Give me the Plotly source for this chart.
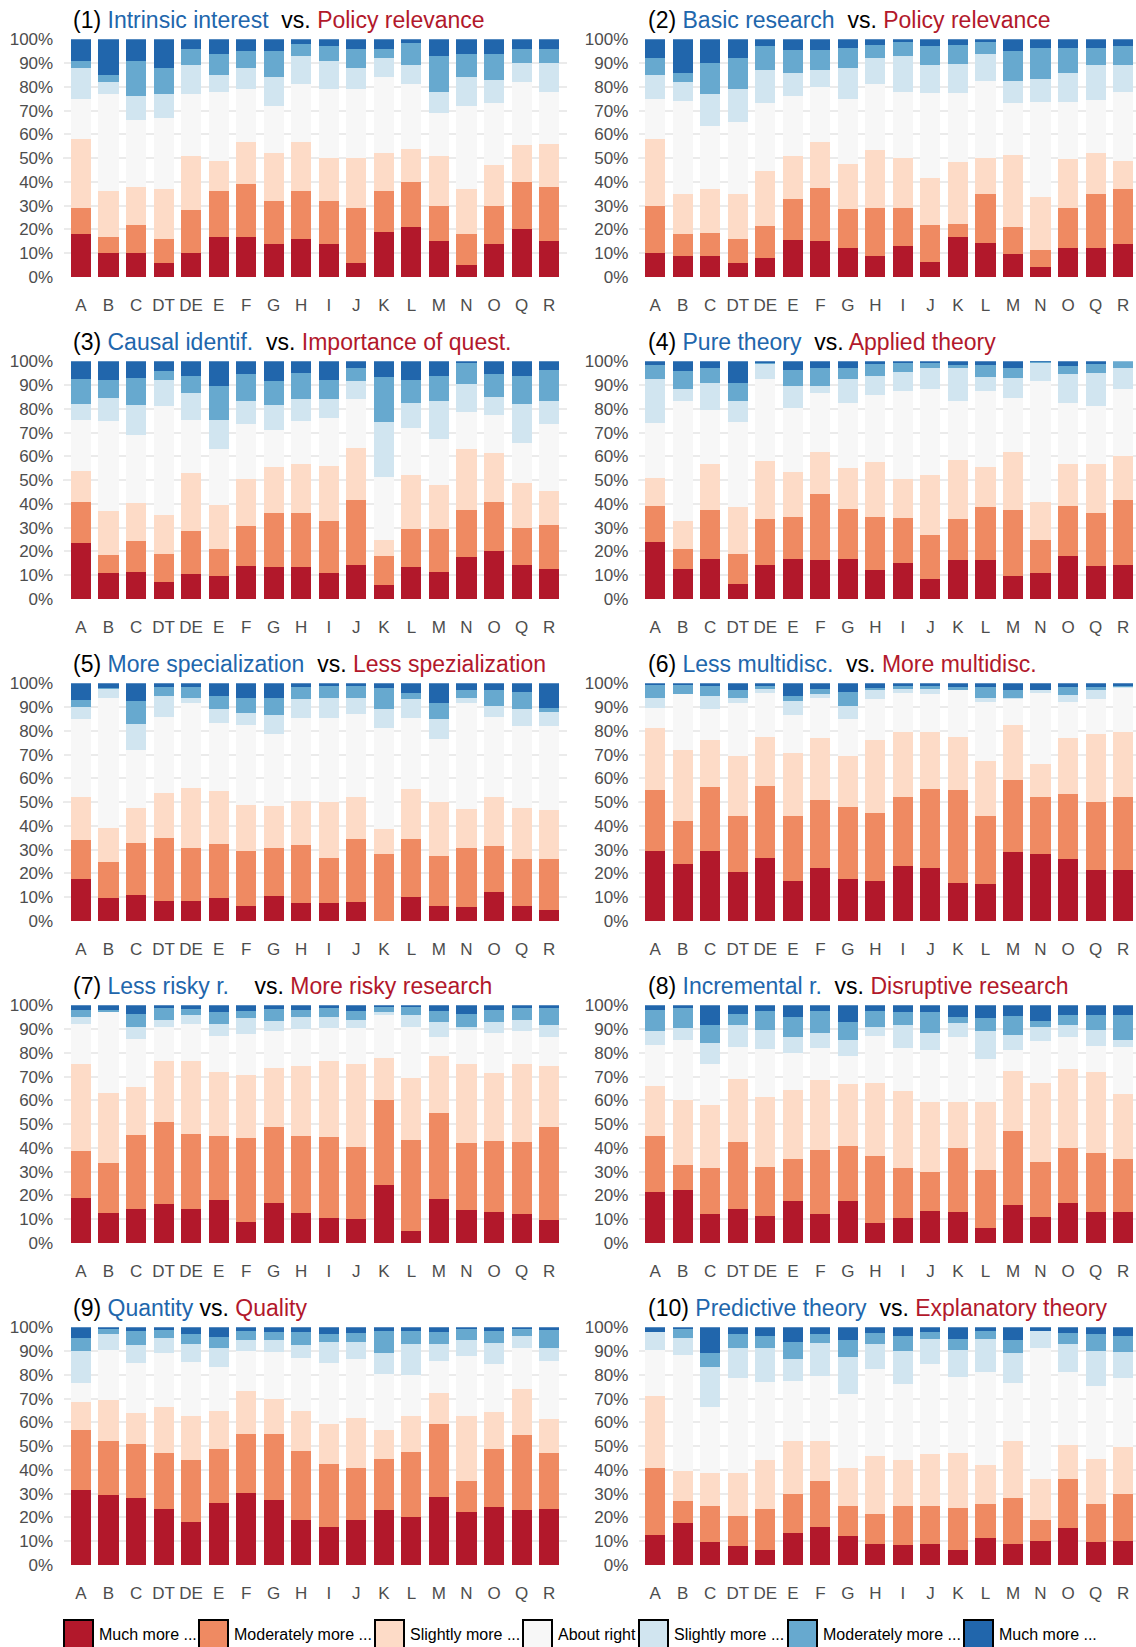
import plotly.graph_objects as go

fields = ["A", "B", "C", "DT", "DE", "E", "F", "G", "H", "I",
          "J", "K", "L", "M", "N", "O", "Q", "R"]

levels = ["Much more ...", "Moderately more ...", "Slightly more ...", "About right",
          "Slightly more ...", "Moderately more ...", "Much more ..."]
level_colors = ["#b2182b", "#ef8a62", "#fddbc7", "#f7f7f7", "#d1e5f0", "#67a9cf", "#2166ac"]

pct_ticks = list(range(0, 101, 10))
pct_labels = [f"{v}%" for v in pct_ticks]

# shares in % -- one row per field (order of `fields`), one column per level (order of `levels`)
intrinsic_vs_policy = [
    [18, 11, 29, 17, 13, 3, 9], [10, 7, 19, 41, 5, 3, 15], [10, 12, 16, 28, 10, 15, 9],
    [6, 10, 21, 30, 10, 11, 12], [10, 18, 23, 26, 12, 7, 4], [17, 19, 13, 29, 7, 9, 6],
    [17, 22, 18, 22, 9, 7, 5], [14, 18, 20, 20, 12, 11, 5], [16, 20, 21, 24, 12, 5, 2],
    [14, 18, 18, 29, 12, 6, 3], [6, 23, 21, 29, 9, 8, 4], [19, 17, 16, 32, 8, 4, 4],
    [21, 19, 14, 27, 8, 9.5, 1.5], [15, 15, 21, 18, 9, 15, 7], [5, 13, 19, 35, 12, 10, 6],
    [14, 16, 17, 26, 10, 11, 6], [20, 20, 15.5, 26.5, 8, 6, 4], [15, 23, 18, 22, 12, 6, 4],
]
basic_vs_policy = [
    [10, 20, 28, 17, 10, 7, 8], [9, 9, 17, 39, 8, 4, 14], [9, 9.5, 18.5, 26.5, 13.5, 13, 10],
    [6, 10, 19, 30, 14, 13, 8], [8, 13.5, 23, 28.5, 14, 10, 3], [15.5, 17.5, 18, 25, 10, 9.5, 4.5],
    [15, 22.5, 19.5, 23, 7, 8.5, 4.5], [12, 16.5, 19, 27.5, 13, 8.5, 3.5], [9, 20, 24.5, 27.5, 11, 5.5, 2.5],
    [13, 16, 21, 28, 15, 6, 1], [6.5, 15.5, 19.5, 36, 11.5, 8, 3], [17, 5.5, 26, 29, 12, 8, 2.5],
    [14.5, 20.5, 15, 32.5, 11.5, 5, 1], [9.5, 11.5, 30.5, 21.5, 9.5, 12.5, 5], [4, 7.5, 22, 40, 10, 13, 3.5],
    [12, 17, 20.5, 24, 12.5, 10.5, 3.5], [12, 23, 17, 22.5, 14.5, 7.5, 3.5], [14, 23, 12, 29, 11, 8, 3],
]
causal_vs_importance = [
    [23.5, 17.5, 13, 21.5, 6.5, 10.5, 7.5], [11, 7.5, 18.5, 38, 9.5, 7.5, 8], [11.5, 13, 16, 28.5, 12.5, 11.5, 7],
    [7, 12, 16.5, 45.5, 11, 4, 4], [10.5, 18, 24.5, 22.5, 11, 7.5, 6], [9.5, 11.5, 18.5, 23.5, 12.5, 14, 10.5],
    [14, 16.5, 20, 23, 10, 11, 5.5], [13.5, 22.5, 19.5, 15.5, 10.5, 10, 8.5], [13.5, 22.5, 21, 18, 9, 11, 5],
    [11, 22, 23, 20, 8, 8, 8], [14.5, 27, 22, 20.5, 7.5, 5.5, 3], [6, 12, 7, 26.5, 23, 19, 6.5],
    [13.5, 16, 22.5, 20, 10.5, 9.5, 8], [11.5, 18, 18.5, 19.5, 16, 10.5, 6], [17.5, 20, 25.5, 15.5, 12, 9, 0.5],
    [20, 21, 20.5, 16, 7.5, 9.5, 5.5], [14.5, 15.5, 19, 16.5, 16.5, 12, 6], [12.5, 18.5, 14.5, 28, 10, 13, 3.5],
]
pure_vs_applied = [
    [24, 15, 12, 23, 18.5, 6, 1.5], [12.5, 8.5, 12, 50.5, 5, 7.5, 4], [17, 20.5, 19.5, 22.5, 11.5, 6, 3],
    [6.5, 12.5, 19.5, 36, 9, 7.5, 9], [14.5, 19, 24.5, 34.5, 6.5, 0.5, 0.5], [17, 17.5, 19, 27, 9, 7, 3.5],
    [16.5, 27.5, 18, 24.5, 3, 7.5, 3], [17, 21, 17, 27.5, 10, 4.5, 3], [12, 22.5, 23, 28.5, 8, 5, 1],
    [15, 19, 16.5, 37, 8, 4, 0.5], [8.5, 18.5, 25, 36.5, 8.5, 2.5, 0.5], [16.5, 17, 25, 25, 13.5, 1.5, 1.5],
    [16.5, 22, 17, 32, 6, 5, 1.5], [9.5, 28, 24.5, 22.5, 8.5, 4, 3], [11, 14, 16, 50.5, 8, 0.2, 0.3],
    [18, 21, 18, 25.5, 12, 3.5, 2], [14, 22, 21, 24, 14, 4, 1], [14.5, 27, 18.5, 28.5, 8.5, 3, 0],
]
specialization = [
    [17.5, 16.5, 18, 33, 5, 3, 7], [9.5, 15.5, 14, 55, 3.5, 0.5, 2], [11, 22, 14.5, 24.5, 11, 9.5, 7.5],
    [8.5, 26.5, 19, 32, 8.5, 4, 1.5], [8.5, 22, 25.5, 35.5, 2.5, 4.5, 1.5], [9.5, 23, 22, 29, 5.5, 5.5, 5.5],
    [6.5, 23, 19.5, 33.5, 5, 6.5, 6], [10.5, 20, 18, 30, 8, 7.5, 6], [7.5, 24.5, 18.5, 35, 8, 5, 1.5],
    [7.5, 19, 23.5, 35.5, 8.5, 5, 1], [8, 26.5, 17.5, 35, 7, 5, 1], [0, 28, 10.5, 42.5, 8, 9, 2],
    [10, 24.5, 21, 30, 8, 2.5, 4], [6.5, 21, 22.5, 26.5, 8.5, 6.5, 8.5], [6, 24.5, 16.5, 44.5, 2.5, 3, 3],
    [12, 19.5, 20.5, 34, 4.5, 6.5, 3], [6.5, 19.5, 21.5, 34.5, 7, 7.5, 3.5], [4.5, 21.5, 20.5, 35.5, 6, 1.5, 10.5],
]
multidisc = [
    [29.5, 25.5, 26, 8.5, 4.5, 5.5, 0.5], [24, 18, 30, 23.5, 0, 4, 0.5], [29.5, 27, 19.5, 13, 5.5, 4.5, 1],
    [20.5, 23.5, 25.5, 22, 2.5, 3, 3], [26.5, 30.5, 20.5, 18.5, 1.5, 1.5, 1], [17, 27, 26.5, 16, 6, 2, 5.5],
    [22.5, 28.5, 26, 17, 1.5, 2, 2.5], [17.5, 30.5, 21.5, 15.5, 5.5, 6, 3.5], [17, 28.5, 30.5, 17.5, 3.5, 1, 2],
    [23, 29, 27.5, 16.5, 1.5, 1.5, 1], [22.5, 33, 24, 16, 2, 1.5, 1], [16, 39, 22.5, 19.5, 0, 1.5, 1.5],
    [15.5, 28.5, 23.5, 24.5, 2, 4.5, 1.5], [29, 30.5, 23, 11, 0.5, 3, 3], [28, 24, 14, 30, 1, 0, 3],
    [26, 27.5, 23.5, 15, 3, 3.5, 1.5], [21.5, 28.5, 28.5, 15, 3.5, 1.5, 1.5], [21.5, 30.5, 27.5, 18.5, 0.5, 0.5, 1],
]
risk = [
    [19, 19.5, 37, 16.5, 3, 3, 2], [12.5, 21, 29.5, 34, 0, 1, 2], [14.5, 31, 20, 20.5, 5, 5.5, 3.5],
    [16.5, 34.5, 25.5, 14.5, 3, 5, 1], [14.5, 31.5, 30.5, 15.5, 4, 2.5, 1.5], [18, 27, 27, 15, 5, 5, 3],
    [9, 35, 26.5, 17.5, 6.5, 3, 2.5], [17, 32, 24.5, 15.5, 4.5, 5, 1.5], [12.5, 32.5, 29.5, 15.5, 5, 3, 2],
    [10.5, 34, 32, 14, 4.5, 4, 1], [10, 30.5, 35, 15, 3.5, 3.5, 2.5], [24.5, 35.5, 18, 18, 1, 2.5, 0.5],
    [5, 38.5, 26, 21.5, 5, 3.5, 0.5], [18.5, 36, 24, 8, 6.5, 4.5, 2.5], [14, 28, 33.5, 14, 1.5, 5.5, 3.5],
    [13, 30, 28.5, 17, 4.5, 5, 2], [12, 30.5, 33, 13.5, 5, 5, 1], [9.5, 39.5, 25.5, 12, 5, 7.5, 1],
]
incremental_vs_disruptive = [
    [21.5, 23.5, 21, 17.5, 5.5, 9, 2], [22.5, 10.5, 27, 25.5, 5, 8.5, 1], [12, 19.5, 26.5, 17.5, 8.5, 7.5, 8.5],
    [14.5, 28, 26.5, 13.5, 9, 5, 3.5], [11.5, 20.5, 29.5, 20, 8, 8, 2.5], [17.5, 18, 29, 15.5, 6.5, 8.5, 5],
    [12, 27, 29.5, 13.5, 6.5, 9, 2.5], [17.5, 23.5, 26, 11.5, 7, 7.5, 7], [8.5, 28, 31, 19.5, 4, 6.5, 2.5],
    [10.5, 21, 32.5, 18, 9.5, 5.5, 3], [13.5, 16.5, 29.5, 21.5, 7.5, 8.5, 3], [13, 27, 19.5, 27, 6, 2.5, 5],
    [6.5, 24, 29, 18, 11.5, 5.5, 5.5], [16, 31, 25.5, 8.5, 6.5, 8, 4.5], [11, 23, 33.5, 17.5, 6, 2.5, 6.5],
    [17, 23, 33, 13.5, 5, 4.5, 4], [13, 25, 34, 11, 6.5, 6.5, 4], [13, 22.5, 27, 20, 3, 10.5, 4],
]
quantity_vs_quality = [
    [31.5, 25.5, 11.5, 8, 13.5, 5.5, 4.5], [29.5, 22.5, 17.5, 21, 6.5, 2.5, 0.5], [28, 23, 13, 21, 7.5, 6, 1.5],
    [23.5, 23.5, 19.5, 22.5, 6.5, 3.5, 1], [18, 26, 18.5, 23, 7.5, 4, 3], [26, 23, 16, 18.5, 8, 4.5, 4],
    [30.5, 24.5, 18, 17, 4.5, 4, 1.5], [27.5, 27.5, 15, 19.5, 5, 3.5, 2], [19, 29, 17, 22, 5.5, 5.5, 2],
    [16, 26.5, 17, 25.5, 9, 3, 3], [19, 22, 21, 24.5, 7.5, 3.5, 2.5], [23, 21.5, 12.5, 23.5, 8.5, 9.5, 1.5],
    [20, 27.5, 15, 17.5, 13, 5.5, 1.5], [28.5, 31, 13, 13.5, 7, 5, 2], [22.5, 13, 27, 25.5, 6.5, 5, 0.5],
    [24.5, 24.5, 15.5, 20, 9, 5, 1.5], [23, 31.5, 19.5, 17.5, 5, 3, 0.5], [23.5, 23.5, 14.5, 24.5, 5.5, 7.5, 1],
]
predictive_vs_explanatory = [
    [12.5, 28.5, 30, 19.5, 7.5, 0, 2], [17.5, 9.5, 12.5, 49, 7, 4, 0.5], [9.5, 15.5, 13.5, 28, 17, 5.5, 11],
    [8, 12.5, 18, 40, 13, 5.5, 3], [6.5, 17, 20.5, 33, 14.5, 5, 3.5], [13.5, 16.5, 22, 25.5, 9, 7.5, 6],
    [16, 19.5, 16.5, 27.5, 14, 3.5, 3], [12, 13, 16, 31, 15.5, 7, 5.5], [9, 12.5, 24.5, 36.5, 10.5, 4.5, 2.5],
    [8.5, 16.5, 19, 32, 14, 6.5, 3.5], [9, 16, 21.5, 38, 10.5, 3, 2], [6.5, 17.5, 23, 32, 11.5, 4.5, 5],
    [11.5, 14, 16.5, 39, 14, 3.5, 1.5], [9, 19, 24, 24.5, 12.5, 5.5, 5.5], [10, 9, 17, 55.5, 7, 0, 1.5],
    [15.5, 20.5, 14.5, 30.5, 12, 4.5, 2.5], [9.5, 16, 19, 31, 14.5, 7, 3], [10, 20, 19.5, 29, 11, 7, 3.5],
]

blue_labels = ["Intrinsic interest", "Basic research", "Causal identif.", "Pure theory",
               "More specialization", "Less multidisc.", "Less risky r.", "Incremental r.",
               "Quantity", "Predictive theory"]
red_labels = ["Policy relevance", "Policy relevance", "Importance of quest.", "Applied theory",
              "Less spezialization", "More multidisc.", "More risky research", "Disruptive research",
              "Quality", "Explanatory theory"]
title_gaps = [2, 2, 2, 2, 2, 2, 4, 2, 1, 2]

panel_data = [intrinsic_vs_policy, basic_vs_policy, causal_vs_importance, pure_vs_applied,
              specialization, multidisc, risk, incremental_vs_disruptive,
              quantity_vs_quality, predictive_vs_explanatory]

W, H = 1136, 1647
FONT = "Liberation Sans, Arial, sans-serif"
BLUE, RED = "#2166ac", "#b2182b"

fig = go.Figure()
layout = {}
shapes = []
annotations = []

for n, data in enumerate(panel_data, start=1):
    r, c = divmod(n - 1, 2)
    sfx = "" if n == 1 else str(n)
    top_px = 39.3 + 322 * r
    bot_px = 277 + 322 * r
    if c == 0:
        xdom, plot_left, xrange = [63.6 / W, 567 / W], 63.6, [-0.63, 17.65]
    else:
        xdom, plot_left, xrange = [638.7 / W, 1.0], 638.7, [-0.6, 17.47]

    for li, lvl in enumerate(levels):
        fig.add_trace(go.Bar(
            x=fields, y=[row[li] for row in data], name=lvl,
            marker=dict(color=level_colors[li], line=dict(width=0)),
            xaxis="x" + sfx, yaxis="y" + sfx, showlegend=False,
        ))

    layout["xaxis" + sfx] = dict(
        domain=xdom, anchor="y" + sfx, type="category", range=xrange,
        automargin=False, showgrid=False, zeroline=False, showline=False,
        ticks="outside", ticklen=13, tickcolor="rgba(0,0,0,0)",
        tickfont=dict(size=17, color="#4d4d4d", family=FONT),
    )
    layout["yaxis" + sfx] = dict(
        domain=[1 - bot_px / H, 1 - top_px / H], anchor="x" + sfx,
        range=[0, 100], tickmode="array", tickvals=pct_ticks, ticktext=pct_labels,
        automargin=False, showgrid=True, gridcolor="#ebebeb", gridwidth=1.6,
        zeroline=False, showline=False,
        ticks="outside", ticklen=6, tickcolor="rgba(0,0,0,0)",
        tickfont=dict(size=17, color="#4d4d4d", family=FONT),
    )
    shapes.append(dict(type="line", xref="x" + sfx + " domain", yref="y" + sfx,
                       x0=0, x1=1, y0=50, y1=50, layer="below",
                       line=dict(color="#c8c8c8", width=1.6)))

    gap = "&nbsp;" * (title_gaps[n - 1] - 1) + " "
    title = (f"({n}) <span style='color:{BLUE}'>{blue_labels[n - 1]}</span>{gap}vs. "
             f"<span style='color:{RED}'>{red_labels[n - 1]}</span>")
    annotations.append(dict(text=title, xref="paper", yref="paper",
                            x=(plot_left + 7) / W, y=1 - (20 + 322 * r) / H,
                            xanchor="left", yanchor="middle", showarrow=False,
                            font=dict(size=23, color="black", family=FONT)))

# legend drawn as boxes along the bottom edge
legend_box_x = [64, 199, 375, 523, 639, 788, 964]
for li, lvl in enumerate(levels):
    x0 = legend_box_x[li]
    shapes.append(dict(type="rect", xref="paper", yref="paper",
                       x0=x0 / W, x1=(x0 + 29) / W, y0=-0.01, y1=1 - 1620 / H,
                       fillcolor=level_colors[li], line=dict(color="black", width=2)))
    annotations.append(dict(text=lvl, xref="paper", yref="paper",
                            x=(x0 + 33) / W, y=1 - 1634 / H,
                            xanchor="left", yanchor="middle", showarrow=False,
                            font=dict(size=16, color="black", family=FONT)))

fig.update_layout(
    **layout,
    barmode="stack", bargap=0.27, showlegend=False,
    width=W, height=H, margin=dict(l=0, r=0, t=0, b=0, pad=0),
    paper_bgcolor="white", plot_bgcolor="white",
    font=dict(family=FONT),
    shapes=shapes, annotations=annotations,
)

# page body has a default 8px margin; drop it so the figure fills the window exactly
fig.write_html("out.html", config={"displayModeBar": False},
               post_script="document.body.style.margin='0';")
